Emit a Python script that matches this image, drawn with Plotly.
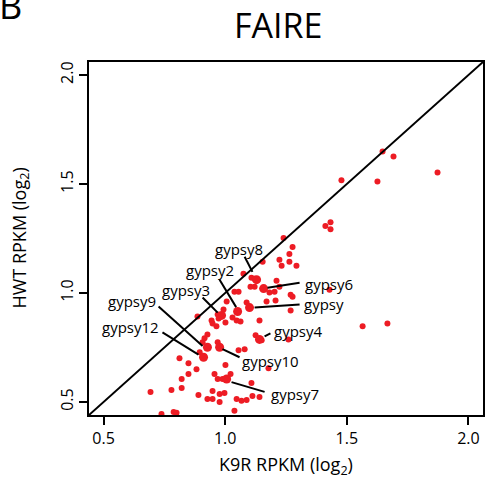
import plotly.graph_objects as go

# log2 RPKM of the unlabelled elements: K9R (x) vs HWT (y)
k9r = [1.647, 1.692, 1.873, 1.478, 1.626, 1.412, 1.433, 1.433, 1.429, 1.565,
       1.667, 1.277, 1.269, 1.260, 1.240, 1.277, 1.264, 1.223, 1.264, 1.293,
       1.154, 1.232, 1.075, 1.108, 1.121, 1.104, 1.121, 1.211, 1.223, 1.038,
       1.055, 1.182, 1.203, 1.269, 1.006, 1.170, 1.207, 1.088, 0.993, 0.969,
       0.973, 0.886, 1.030, 1.047, 1.063, 1.001, 0.964, 0.944, 0.948, 1.141,
       1.125, 1.150, 0.915, 0.927, 0.969, 1.055, 1.080, 0.907, 0.895, 0.812,
       0.849, 0.882, 0.849, 0.821, 0.821, 0.779, 0.693, 0.890, 0.927, 0.738,
       0.788, 0.800, 1.001, 0.956, 0.969, 0.989, 1.022, 1.108, 1.178, 0.948,
       0.977, 0.997, 0.948, 0.977, 1.047, 1.067, 1.088, 1.112, 1.141, 1.038]
hwt = [1.649, 1.626, 1.553, 1.517, 1.512, 1.307, 1.325, 1.293, 1.015, 0.847,
       0.860, 0.983, 0.920, 0.787, 1.252, 1.211, 1.179, 1.152, 1.143, 1.125,
       1.143, 1.125, 1.088, 1.070, 1.065, 1.029, 1.029, 1.056, 1.029, 1.006,
       1.006, 1.002, 1.006, 0.992, 0.961, 0.961, 0.965, 0.956, 0.924, 0.901,
       0.883, 0.892, 0.888, 0.874, 0.869, 0.865, 0.847, 0.874, 0.860, 0.874,
       0.806, 0.783, 0.792, 0.810, 0.774, 0.737, 0.742, 0.774, 0.728, 0.701,
       0.678, 0.650, 0.628, 0.605, 0.564, 0.555, 0.546, 0.532, 0.514, 0.445,
       0.454, 0.450, 0.669, 0.628, 0.605, 0.605, 0.628, 0.587, 0.655, 0.550,
       0.536, 0.541, 0.514, 0.500, 0.514, 0.505, 0.509, 0.527, 0.523, 0.459]

# labelled gypsy elements
gypsy_names = ["gypsy8", "gypsy6", "gypsy", "gypsy2", "gypsy3",
               "gypsy4", "gypsy9", "gypsy10", "gypsy12", "gypsy7"]
gypsy_k9r = [1.129, 1.158, 1.100, 1.051, 0.985, 1.141, 0.927, 0.977, 0.911, 1.006]
gypsy_hwt = [1.061, 1.020, 0.933, 0.915, 0.897, 0.787, 0.751, 0.751, 0.705, 0.605]

tick_vals = [0.5, 1.0, 1.5, 2.0]
tick_text = ["0.5", "1.0", "1.5", "2.0"]

RED = "#ED1C24"
FONT = "Open Sans"
lo, hi = 0.44, 2.06

# where each label sits, and its leader line (text x, text y, line start, line end)
placement = {
    "gypsy8":  (1.055, 1.202, (1.080, 1.166), (1.112, 1.097)),
    "gypsy2":  (0.936, 1.106, (0.977, 1.061), (1.045, 0.935)),
    "gypsy3":  (0.837, 1.015, (0.907, 0.979), (0.969, 0.910)),
    "gypsy9":  (0.615, 0.965, (0.726, 0.938), (0.907, 0.757)),
    "gypsy12": (0.611, 0.842, (0.742, 0.819), (0.890, 0.717)),
    "gypsy10": (1.186, 0.687, (0.989, 0.742), (1.059, 0.705)),
    "gypsy7":  (1.289, 0.536, (1.026, 0.591), (1.162, 0.546)),
    "gypsy4":  (1.301, 0.824, (1.162, 0.801), (1.186, 0.815)),
    "gypsy6":  (1.425, 1.040, (1.174, 1.024), (1.306, 1.047)),
    "gypsy":   (1.408, 0.951, (1.121, 0.933), (1.306, 0.947)),
}

fig = go.Figure()

fig.add_trace(go.Scatter(
    x=k9r, y=hwt, mode="markers",
    marker=dict(size=6, color=RED, line=dict(width=0)),
    showlegend=False, hoverinfo="skip",
))
fig.add_trace(go.Scatter(
    x=gypsy_k9r, y=gypsy_hwt, mode="markers", text=gypsy_names,
    marker=dict(size=9, color=RED, line=dict(width=0)),
    showlegend=False,
))

# y = x line
fig.add_shape(type="line", xref="x", yref="y", x0=lo, y0=lo, x1=hi, y1=hi,
              line=dict(color="black", width=2))

for name in gypsy_names:
    tx, ty, (x0, y0), (x1, y1) = placement[name]
    fig.add_shape(type="line", xref="x", yref="y", x0=x0, y0=y0, x1=x1, y1=y1,
                  line=dict(color="black", width=2))
    fig.add_annotation(x=tx, y=ty, xref="x", yref="y", text=name, showarrow=False,
                       font=dict(family=FONT, size=15, color="black"),
                       xanchor="center", yanchor="middle")

# titles
fig.add_annotation(x=0.48, y=1.105, xref="paper", yref="paper", text="FAIRE",
                   showarrow=False, font=dict(family=FONT, size=34, color="black"),
                   xanchor="center", yanchor="middle")
fig.add_annotation(x=-0.2, y=1.16, xref="paper", yref="paper", text="B",
                   showarrow=False, font=dict(family=FONT, size=36, color="black"),
                   xanchor="center", yanchor="middle")
fig.add_annotation(x=0.5, y=-0.142, xref="paper", yref="paper",
                   text="K9R RPKM (log<sub>2</sub>)", showarrow=False,
                   font=dict(family=FONT, size=18, color="black"),
                   xanchor="center", yanchor="middle")
fig.add_annotation(x=-0.175, y=0.5, xref="paper", yref="paper",
                   text="HWT RPKM (log<sub>2</sub>)", showarrow=False, textangle=-90,
                   font=dict(family=FONT, size=18, color="black"),
                   xanchor="center", yanchor="middle")

axis_style = dict(
    range=[lo, hi], tickvals=tick_vals, ticktext=tick_text,
    ticks="outside", ticklen=8, tickwidth=2, tickcolor="black",
    showline=True, linecolor="black", linewidth=2, mirror=True,
    showgrid=False, zeroline=False, automargin=False,
    tickfont=dict(family=FONT, size=16, color="black"),
)
fig.update_xaxes(**axis_style)
fig.update_yaxes(**axis_style, tickangle=-90)

fig.update_layout(
    width=487, height=481,
    margin=dict(l=89, r=4, t=62, b=66),
    plot_bgcolor="white", paper_bgcolor="white",
    font=dict(family=FONT),
)

# the page body has an 8px margin by default; drop it so the figure sits at 0,0
fig.write_html("out.html", config={"displayModeBar": False},
               post_script="document.body.style.margin='0';")
